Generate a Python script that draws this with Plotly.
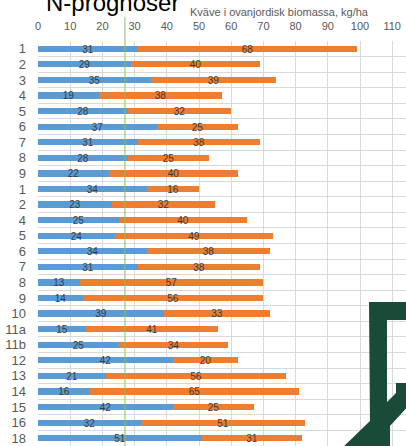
import plotly.graph_objects as go

# Field labels (top to bottom) and nitrogen in above-ground biomass, kg/ha
fields = ["1", "2", "3", "4", "5", "6", "7", "8", "9",
          "1", "2", "4", "5", "6", "7", "8", "9", "10",
          "11a", "11b", "12", "13", "14", "15", "16", "18"]
n_measured = [31, 29, 35, 19, 28, 37, 31, 28, 22,
              34, 23, 25, 24, 34, 31, 13, 14, 39,
              15, 25, 42, 21, 16, 42, 32, 51]
n_forecast = [68, 40, 39, 38, 32, 25, 38, 25, 40,
              16, 32, 40, 49, 38, 38, 57, 56, 33,
              41, 34, 20, 56, 65, 25, 51, 31]
x_ticks = [0, 10, 20, 30, 40, 50, 60, 70, 80, 90, 100, 110]
threshold = 27

W, H = 406, 446
ML, MR, MT, MB = 38, 0, 41, 0
PW, PH = W - ML - MR, H - MT - MB
X_MAX = PW / 3.22  # 3.22 px per kg/ha

rows = list(range(len(fields)))
label_font = dict(family="Liberation Sans, Arial, sans-serif", size=10, color="#3a3a3a")

fig = go.Figure()
fig.add_trace(go.Bar(
    y=rows, x=n_measured, orientation="h", width=0.4,
    marker=dict(color="#5b9bd5", line=dict(width=0)),
    text=[str(v) for v in n_measured], textposition="inside",
    insidetextanchor="middle", textangle=0, textfont=label_font,
    constraintext="none", cliponaxis=False, showlegend=False,
))
fig.add_trace(go.Bar(
    y=rows, x=n_forecast, orientation="h", width=0.4,
    marker=dict(color="#ed7d31", line=dict(width=0)),
    text=[str(v) for v in n_forecast], textposition="inside",
    insidetextanchor="middle", textangle=0, textfont=label_font,
    constraintext="none", cliponaxis=False, showlegend=False,
))


def px(x):
    return (x - ML) / PW


def py(y):
    return 1 - (y - MT) / PH


# Emblem in the lower right corner
emblem = [(369, 302), (410, 302), (410, 320), (387, 320), (387, 402),
          (396, 393), (396, 383), (410, 383), (410, 404), (390, 426),
          (390, 450), (340, 450), (370, 421)]
path = "M " + " L ".join(f"{px(a):.5f},{py(b):.5f}" for a, b in emblem) + " Z"

shapes = [
    dict(type="line", xref="x", yref="paper", x0=threshold, x1=threshold,
         y0=0, y1=py(17), line=dict(color="#8dbd5e", width=1), layer="above"),
    dict(type="path", xref="paper", yref="paper", path=path,
         fillcolor="#1a4a38", line=dict(width=0), layer="above"),
]

fig.update_layout(
    width=W, height=H,
    margin=dict(l=ML, r=MR, t=MT, b=MB, pad=0),
    barmode="stack", bargap=0,
    paper_bgcolor="white", plot_bgcolor="white",
    font=dict(family="Liberation Sans, Arial, sans-serif", color="#595959"),
    shapes=shapes,
    xaxis=dict(
        range=[0, X_MAX], side="top", tickvals=x_ticks,
        showgrid=True, gridcolor="#d9d9d9", gridwidth=1, zeroline=False,
        showline=False, ticks="", ticklabelstandoff=8,
        tickfont=dict(size=11, color="#595959"),
    ),
    yaxis=dict(
        range=[len(fields) - 0.5, -0.5], tickvals=rows, ticktext=fields,
        showgrid=False, zeroline=False, showline=False, ticks="",
        ticklabelstandoff=11,
        tickfont=dict(size=13, color="#595959"),
        minor=dict(tick0=0.5, dtick=1, showgrid=True, gridcolor="#d9d9d9",
                   gridwidth=1, ticks=""),
    ),
    annotations=[
        dict(text="N-prognoser", xref="paper", yref="paper",
             x=px(44), y=py(18), xanchor="left", yanchor="bottom",
             showarrow=False, font=dict(size=24, color="#000000")),
        dict(text="Kväve i ovanjordisk biomassa, kg/ha", xref="paper", yref="paper",
             x=px(279), y=py(12), xanchor="center", yanchor="middle",
             showarrow=False, font=dict(size=11, color="#595959")),
    ],
)

fig.write_html("out.html")
